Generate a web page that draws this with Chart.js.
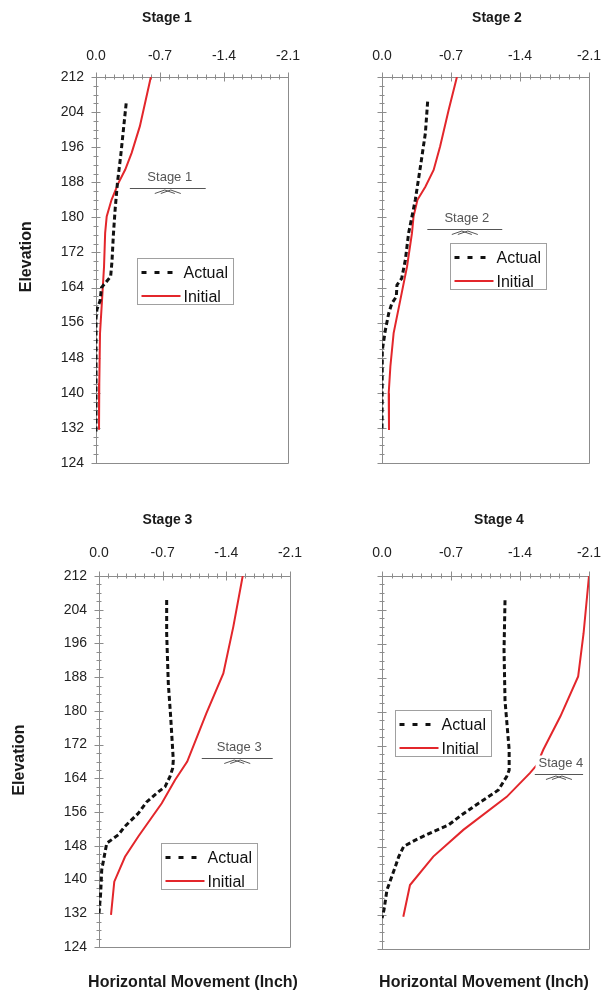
<!DOCTYPE html>
<html>
<head>
<meta charset="utf-8">
<script src="https://cdn.jsdelivr.net/npm/chart.js@4.4.1/dist/chart.umd.min.js"></script>
<style>
  html, body { margin: 0; padding: 0; background: #fff; }
  #wrap { position: relative; width: 613px; height: 992px; overflow: hidden; }
  canvas { position: absolute; }
</style>
</head>
<body>
<div id="wrap">
  <canvas id="c1" width="306" height="490" style="left:0;top:0"></canvas>
  <canvas id="c2" width="307" height="490" style="left:306px;top:0"></canvas>
  <canvas id="c3" width="306" height="502" style="left:0;top:490px"></canvas>
  <canvas id="c4" width="307" height="502" style="left:306px;top:490px"></canvas>
</div>
<script>
// axis ticks
var xTicks = [0, -0.7, -1.4, -2.1];
var yTicks = [124, 132, 140, 148, 156, 164, 172, 180, 188, 196, 204, 212];
var stageNames = ['Stage 1', 'Stage 2', 'Stage 3', 'Stage 4'];
var seriesNames = ['Actual', 'Initial'];
var xTitle = 'Horizontal Movement (Inch)';
var yTitle = 'Elevation';

// stage 1
var actual1Elev = [206, 200, 194, 188, 182, 176, 170, 166.5, 165.5, 164, 161, 159, 157, 130.5];
var actual1Move = [-0.33, -0.30, -0.27, -0.235, -0.21, -0.19, -0.175, -0.16, -0.12, -0.06, -0.045, -0.01, 0, 0];
var initial1Elev = [212, 200.8, 194.7, 190.9, 187.8, 184, 180.2, 176.4, 168.8, 161.2, 153.6, 142.2, 131.6];
var initial1Move = [-0.60, -0.48, -0.39, -0.32, -0.245, -0.17, -0.117, -0.10, -0.088, -0.066, -0.044, -0.036, -0.033];

// stage 2
var actual2Elev = [206.4, 199.2, 191.6, 184, 176.4, 170.3, 166.1, 164.6, 161.9, 160.4, 158.1, 154.3, 149.7, 131.5];
var actual2Move = [-0.463, -0.44, -0.39, -0.338, -0.27, -0.237, -0.20, -0.152, -0.145, -0.10, -0.068, -0.034, -0.003, 0];
var initial2Elev = [212, 204.5, 196.2, 190.8, 187, 184, 180.2, 176.4, 168.8, 161.2, 153.6, 146, 139.9, 131.5];
var initial2Move = [-0.76, -0.676, -0.59, -0.524, -0.44, -0.36, -0.32, -0.304, -0.254, -0.186, -0.118, -0.085, -0.068, -0.071];

// stage 3
var actual3Elev = [206.3, 198.4, 186.5, 178.6, 168.3, 166.4, 164.4, 162, 160.8, 158.4, 155.7, 152.5, 150.6, 148.6, 142.3, 136.7, 132];
var actual3Move = [-0.744, -0.744, -0.762, -0.788, -0.817, -0.81, -0.78, -0.726, -0.652, -0.524, -0.432, -0.28, -0.212, -0.085, -0.03, -0.018, 0];
var initial3Elev = [212, 200, 188.9, 179.4, 168, 163.6, 158.1, 150.2, 145.4, 139.5, 131.6];
var initial3Move = [-1.58, -1.477, -1.367, -1.18, -0.97, -0.836, -0.69, -0.432, -0.286, -0.168, -0.132];

// stage 4
var actual4Elev = [206.3, 194.5, 182.6, 171, 166.2, 164.7, 161.5, 160.7, 158.4, 155.5, 153.3, 151.7, 149.7, 148.2, 145.8, 143.4, 137.9, 133.2, 131.3];
var actual4Move = [-1.248, -1.238, -1.248, -1.29, -1.29, -1.265, -1.18, -1.13, -0.98, -0.8, -0.677, -0.52, -0.338, -0.22, -0.17, -0.135, -0.05, -0.02, 0];
var initial4Elev = [212, 198.5, 188.3, 178.9, 171, 167.4, 165.5, 159.9, 152.1, 145.8, 139.1, 131.6];
var initial4Move = [-2.1, -2.045, -1.99, -1.81, -1.636, -1.57, -1.50, -1.265, -0.825, -0.52, -0.284, -0.216];

// excavation level markers
var stageLevel = [186.7, 177.4, 168.9, 165.3];
var stageFrom = [-0.37, -0.46, -1.13, -1.55];
var stageTo = [-1.2, -1.22, -1.91, -2.04];

var actualElev = [actual1Elev, actual2Elev, actual3Elev, actual4Elev];
var actualMove = [actual1Move, actual2Move, actual3Move, actual4Move];
var initialElev = [initial1Elev, initial2Elev, initial3Elev, initial4Elev];
var initialMove = [initial1Move, initial2Move, initial3Move, initial4Move];

var panels = [
  {id: 'c1', pad: {left: 10, top: 0, right: 18, bottom: 27}, yW: 86, xH: 77, xPad: 12, yLabels: true, yTitleX: 26.7, yTitleY: 256.7, titleX: 167, titleY: 21.5, bottomTitle: false, legend: [40.7, 180.7]},
  {id: 'c2', pad: {left: 0, top: 0, right: 24, bottom: 27}, yW: 76, xH: 77, xPad: 12, yLabels: false, titleX: 191, titleY: 21.5, bottomTitle: false, legend: [68, 165.7]},
  {id: 'c3', pad: {left: 10, top: 0, right: 16, bottom: 45}, yW: 89, xH: 86, xPad: 14, yLabels: true, yTitleX: 19.7, yTitleY: 270, titleX: 167.5, titleY: 34, bottomTitle: true, legend: [61.7, 267.3]},
  {id: 'c4', pad: {left: 0, top: 0, right: 24, bottom: 43}, yW: 76, xH: 86, xPad: 14, yLabels: false, titleX: 193, titleY: 34, bottomTitle: true, legend: [13, 134]}
];

var FONT = '"Liberation Sans", Arial, sans-serif';
Chart.defaults.font.family = FONT;
Chart.defaults.color = '#222';

function pts(elev, move) {
  return elev.map(function (e, i) { return {x: move[i], y: e}; });
}

var decor = {
  id: 'decor',
  beforeDatasetsDraw: function (chart, args, o) {
    var ctx = chart.ctx, a = chart.chartArea, xs = chart.scales.x, ys = chart.scales.y;
    var L = Math.round(a.left) + 0.5, T = Math.round(a.top) + 0.5;
    var R = Math.round(a.right) + 0.5, B = Math.round(a.bottom) + 0.5;
    ctx.save();
    ctx.strokeStyle = '#8c8c8c';
    ctx.lineWidth = 1;
    ctx.beginPath();
    ctx.rect(L, T, R - L, B - T);
    // y ticks, every 2 ft
    for (var v = 124; v <= 212; v += 2) {
      var y = Math.round(ys.getPixelForValue(v)) + 0.5;
      var major = yTicks.indexOf(v) >= 0;
      ctx.moveTo(L - (major ? 5 : 3), y);
      ctx.lineTo(L + (major ? 4 : 2), y);
    }
    // x ticks, every 0.1 in
    for (var k = 0; k <= 21; k++) {
      var x = Math.round(xs.getPixelForValue(-k / 10)) + 0.5;
      var mj = k % 7 === 0;
      ctx.moveTo(x, T - (mj ? 5 : 3));
      ctx.lineTo(x, T + (mj ? 4 : 2));
    }
    ctx.stroke();
    ctx.restore();
  },
  afterDatasetsDraw: function (chart, args, o) {
    var ctx = chart.ctx, a = chart.chartArea, xs = chart.scales.x, ys = chart.scales.y;
    ctx.save();
    // stage marker
    var y = Math.round(ys.getPixelForValue(o.level)) + 0.5;
    var x1 = xs.getPixelForValue(o.from), x2 = xs.getPixelForValue(o.to);
    var cx = (x1 + x2) / 2;
    ctx.font = '13px ' + FONT;
    var tw = ctx.measureText(o.stage).width;
    ctx.fillStyle = '#fff';
    ctx.fillRect(cx - tw / 2 - 1, y - 19, tw + 2, 14);
    ctx.fillStyle = '#555';
    ctx.textAlign = 'center';
    ctx.textBaseline = 'alphabetic';
    ctx.fillText(o.stage, cx + 2, y - 8);
    ctx.strokeStyle = '#555';
    ctx.lineWidth = 1;
    ctx.beginPath();
    ctx.moveTo(x1, y); ctx.lineTo(x2, y);
    ctx.moveTo(cx - 13, y + 5); ctx.lineTo(cx - 3, y + 1.5); ctx.lineTo(cx + 7, y + 5);
    ctx.moveTo(cx - 7, y + 5); ctx.lineTo(cx + 3, y + 1.5); ctx.lineTo(cx + 13, y + 5);
    ctx.stroke();

    // legend box
    var lx = Math.round(a.left + o.legend[0]) + 0.5, ly = Math.round(a.top + o.legend[1]) + 0.5;
    ctx.fillStyle = '#fff';
    ctx.fillRect(lx, ly, 96, 46);
    ctx.strokeStyle = '#a0a0a0';
    ctx.strokeRect(lx, ly, 96, 46);
    var ds = chart.data.datasets;
    ctx.font = '16px ' + FONT;
    ctx.textAlign = 'left';
    ctx.fillStyle = '#111';
    for (var i = 0; i < ds.length; i++) {
      var ry = ly + 14 + i * 23.5;
      ctx.strokeStyle = ds[i].borderColor;
      ctx.lineWidth = ds[i].borderWidth;
      ctx.setLineDash(i === 0 ? [5, 8] : []);
      ctx.beginPath();
      ctx.moveTo(lx + 4, ry); ctx.lineTo(lx + 43, ry);
      ctx.stroke();
      ctx.fillText(ds[i].label, lx + 46, ry + 5.5);
    }
    ctx.setLineDash([]);

    // headings
    ctx.fillStyle = '#1a1a1a';
    ctx.textAlign = 'center';
    ctx.font = 'bold 14px ' + FONT;
    ctx.fillText(o.stage, o.titleX, o.titleY);
    if (o.bottomTitle) {
      ctx.font = 'bold 16px ' + FONT;
      ctx.fillText(xTitle, (a.left + a.right) / 2 - 1.5, chart.height - 4.7);
    }
    if (o.yTitleX) {
      ctx.font = 'bold 16px ' + FONT;
      ctx.textBaseline = 'middle';
      ctx.translate(o.yTitleX, o.yTitleY);
      ctx.rotate(-Math.PI / 2);
      ctx.fillText(yTitle, 0, 0);
    }
    ctx.restore();
  }
};

panels.forEach(function (p, i) {
  new Chart(document.getElementById(p.id), {
    type: 'scatter',
    data: {
      datasets: [{
        label: seriesNames[0],
        data: pts(actualElev[i], actualMove[i]),
        showLine: true,
        borderColor: '#111111',
        borderWidth: 3,
        borderDash: [5, 3],
        pointRadius: 0,
        fill: false
      }, {
        label: seriesNames[1],
        data: pts(initialElev[i], initialMove[i]),
        showLine: true,
        borderColor: '#e3262b',
        borderWidth: 2,
        pointRadius: 0,
        fill: false
      }]
    },
    options: {
      responsive: false,
      animation: false,
      devicePixelRatio: 1,
      layout: {padding: p.pad},
      plugins: {
        legend: {display: false},
        tooltip: {enabled: false},
        decor: {
          stage: stageNames[i], level: stageLevel[i], from: stageFrom[i], to: stageTo[i],
          legend: p.legend, titleX: p.titleX, titleY: p.titleY, bottomTitle: p.bottomTitle,
          yTitleX: p.yTitleX || 0, yTitleY: p.yTitleY || 0
        }
      },
      scales: {
        x: {
          type: 'linear', position: 'top', min: -2.1, max: 0, reverse: true,
          grid: {display: false, drawTicks: false},
          border: {display: false},
          ticks: {
            padding: p.xPad, autoSkip: false, maxRotation: 0, color: '#222',
            font: {size: 14},
            callback: function (v) { return Number(v).toFixed(1); }
          },
          afterBuildTicks: function (s) { s.ticks = xTicks.map(function (v) { return {value: v}; }); },
          afterFit: function (s) { s.height = p.xH; s.paddingLeft = 0; s.paddingRight = 0; }
        },
        y: {
          type: 'linear', position: 'left', min: 124, max: 212,
          grid: {display: false, drawTicks: false},
          border: {display: false},
          ticks: {display: p.yLabels, padding: 12, autoSkip: false, color: '#222', font: {size: 14}},
          afterBuildTicks: function (s) { s.ticks = yTicks.map(function (v) { return {value: v}; }); },
          afterFit: function (s) { s.width = p.yW; s.paddingTop = 0; s.paddingBottom = 0; }
        }
      }
    },
    plugins: [decor]
  });
});
</script>
</body>
</html>
